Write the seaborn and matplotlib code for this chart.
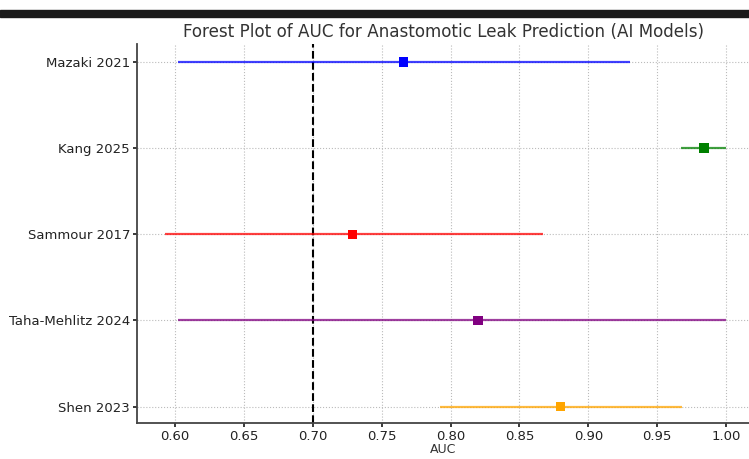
import matplotlib
matplotlib.use("Agg")
import matplotlib.pyplot as plt
import seaborn as sns
import pandas as pd
from matplotlib.patches import Rectangle

# study data
studies = ["Mazaki 2021", "Kang 2025", "Sammour 2017", "Taha-Mehlitz 2024", "Shen 2023"]
auc = [0.766, 0.984, 0.729, 0.820, 0.880]
ci_low = [0.602, 0.967, 0.593, 0.602, 0.792]
ci_high = [0.930, 1.000, 0.867, 1.000, 0.968]
colors = ["blue", "green", "red", "purple", "orange"]

df = pd.DataFrame({"study": studies, "auc": auc, "low": ci_low, "high": ci_high})
df["pos"] = list(range(len(df) - 1, -1, -1))

sns.set_theme(style="whitegrid")
plt.rcParams["font.family"] = ["DejaVu Sans"]

fig = plt.figure(figsize=(7.49, 4.59), dpi=100)
ax = fig.add_axes([0.183, 0.0784, 0.817, 0.826])

for i, row in df.iterrows():
    ax.hlines(row["pos"], row["low"], row["high"], color=colors[i], lw=1.6, alpha=0.75, zorder=2)
sns.scatterplot(data=df, x="auc", y="pos", hue="study", palette=colors, marker="s",
                s=45, edgecolor="none", legend=False, ax=ax, zorder=3)

ax.axvline(0.7, color="black", linestyle="--", lw=1.5, zorder=1)

ax.set_yticks(df["pos"])
ax.set_yticklabels(df["study"])
ax.set_xticks([0.60, 0.65, 0.70, 0.75, 0.80, 0.85, 0.90, 0.95, 1.00])
ax.set_xlim(0.5724, 1.0167)
ax.set_ylim(-0.19, 4.21)
ax.set_xlabel("AUC", fontsize=9, labelpad=0, color="#333333")
ax.set_ylabel("")
ax.set_title("Forest Plot of AUC for Anastomotic Leak Prediction (AI Models)",
             fontsize=12.1, color="#333333", pad=5)

ax.grid(True, linestyle=":", color="#bbbbbb", lw=0.8)
ax.tick_params(axis="both", labelsize=9.5, colors="#222222", length=3, pad=2, left=True, bottom=True)
for side in ["top", "right"]:
    ax.spines[side].set_visible(False)
for side in ["left", "bottom"]:
    ax.spines[side].set_color("#444444")
    ax.spines[side].set_linewidth(1.3)

# dark band across the top of the screenshot
fig.patches.append(Rectangle((0.0, 1 - 17 / 459), 1.0, 7 / 459, transform=fig.transFigure,
                             color="#1a1a1a", zorder=0))

fig.savefig("out.png", dpi=100)
